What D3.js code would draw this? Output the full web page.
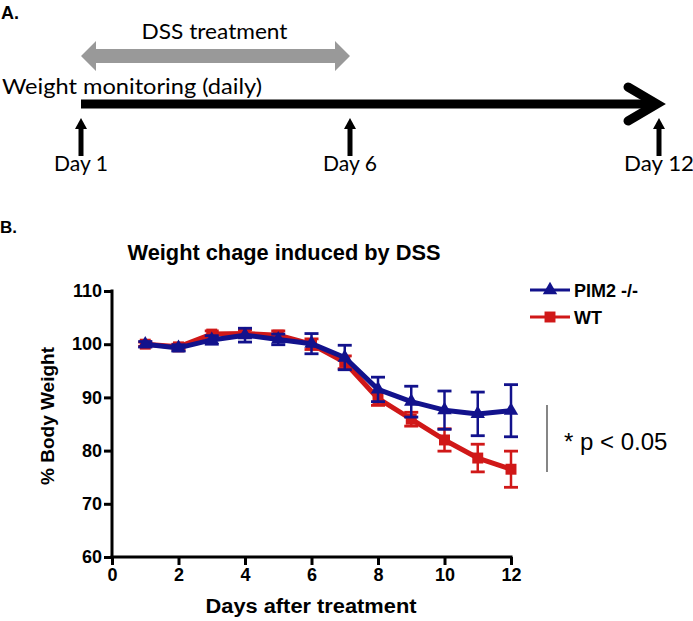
<!DOCTYPE html>
<html><head><meta charset="utf-8">
<script src="https://cdn.jsdelivr.net/npm/d3@7/dist/d3.min.js"></script>
<style>body{margin:0;background:#fff}svg{display:block}</style>
</head><body>
<script>
const days = [1,2,3,4,5,6,7,8,9,10,11,12];
const pim2 = [100, 99.3, 100.8, 101.7, 100.9, 100.1, 97.5, 91.5, 89.2, 87.6, 86.9, 87.5];
const pim2Err = [0.5, 0.6, 0.8, 1.3, 1.0, 1.9, 2.3, 2.3, 2.9, 3.6, 4.1, 4.9];
const wt = [100, 99.5, 101.9, 102.0, 101.7, 100.0, 96.6, 89.8, 85.9, 82.0, 78.6, 76.5];
const wtErr = [0.4, 0.5, 0.6, 0.7, 0.8, 1.0, 1.2, 1.3, 1.3, 2.1, 2.6, 3.4];
const xTicks = [0,2,4,6,8,10,12];
const yTicks = [60,70,80,90,100,110];
const timelineDays = [1,6,12];
const timelineLabels = ["Day 1","Day 6","Day 12"];

const W = 693, H = 621;
const svg = d3.select("body").append("svg").attr("width", W).attr("height", H);
const cal = "Lato, 'Open Sans', sans-serif";
const ar = "'Liberation Sans', Arial, sans-serif";

// ---------- Panel A ----------
svg.append("text").attr("x", 1).attr("y", 19).attr("font-family", ar).attr("font-weight", "bold")
  .attr("font-size", 18).text("A.");
const tx = d3.scaleLinear().domain([1,6,12]).range([81,350,659]);

// grey double arrow (DSS treatment: day 1 to day 6)
const gx0 = tx(1), gx1 = tx(6), gy = 56;
svg.append("path").attr("fill", "#999")
  .attr("d", `M${gx0},${gy} L${gx0+15},${gy-15} L${gx0+15},${gy-7} L${gx1-15},${gy-7} L${gx1-15},${gy-15} L${gx1},${gy}
              L${gx1-15},${gy+15} L${gx1-15},${gy+7} L${gx0+15},${gy+7} L${gx0+15},${gy+15} Z`);
svg.append("text").attr("x", (gx0+gx1)/2 - 1).attr("y", 39).attr("text-anchor", "middle")
  .attr("font-family", cal).attr("font-size", 22).attr("textLength", 146).attr("lengthAdjust", "spacingAndGlyphs")
  .text("DSS treatment");

svg.append("text").attr("x", 2).attr("y", 94).attr("font-family", cal).attr("font-size", 22)
  .attr("textLength", 260).attr("lengthAdjust", "spacingAndGlyphs").text("Weight monitoring (daily)");

// black timeline arrow
const by = 104;
svg.append("line").attr("x1", tx(1)).attr("x2", tx(12)-4).attr("y1", by).attr("y2", by)
  .attr("stroke", "#000").attr("stroke-width", 9);
svg.append("path").attr("fill", "none").attr("stroke", "#000").attr("stroke-width", 9)
  .attr("stroke-linecap", "round").attr("stroke-linejoin", "miter")
  .attr("d", `M${tx(12)-31},${by-17} L${tx(12)-2},${by} L${tx(12)-31},${by+17}`);

// up arrows and day labels
timelineDays.forEach((d,i) => {
  const x = tx(d);
  svg.append("line").attr("x1", x).attr("x2", x).attr("y1", 127).attr("y2", 156)
    .attr("stroke", "#000").attr("stroke-width", 5);
  svg.append("path").attr("fill", "#000").attr("d", `M${x-6},${129} L${x},${118} L${x+6},${129} Z`);
  svg.append("text").attr("x", x).attr("y", 171).attr("text-anchor", "middle")
    .attr("font-family", cal).attr("font-size", 22).attr("textLength", i === 2 ? 70 : 54)
    .attr("lengthAdjust", "spacingAndGlyphs").text(timelineLabels[i]);
});

// ---------- Panel B ----------
svg.append("text").attr("x", 0).attr("y", 233).attr("font-family", ar).attr("font-weight", "bold")
  .attr("font-size", 17).text("B.");
svg.append("text").attr("x", 284).attr("y", 260).attr("text-anchor", "middle").attr("font-family", ar)
  .attr("font-weight", "bold").attr("font-size", 22).attr("textLength", 313).attr("lengthAdjust", "spacingAndGlyphs")
  .text("Weight chage induced by DSS");

const x = d3.scaleLinear().domain([0,12]).range([112,511]);
const y = d3.scaleLinear().domain([60,110]).range([557,291]);

const gX = svg.append("g").attr("transform", `translate(0,${y(60)})`)
  .call(d3.axisBottom(x).tickValues(xTicks).tickSize(8).tickPadding(3).tickFormat(d3.format("d")));
const gY = svg.append("g").attr("transform", `translate(${x(0)},0)`)
  .call(d3.axisLeft(y).tickValues(yTicks).tickSize(8).tickPadding(2).tickFormat(d3.format("d")));
[gX, gY].forEach(g => {
  g.select(".domain").attr("stroke", "#000").attr("stroke-width", 3)
    .attr("d", g === gX ? `M${x(0)-1.5},0H${x(12)+1.5}` : `M0,${y(60)+1.5}V${y(110)-1.5}`);
  g.selectAll(".tick line").attr("stroke", "#000").attr("stroke-width", 3);
  g.selectAll(".tick text").attr("fill", "#000").attr("font-family", ar).attr("font-weight", "bold")
    .attr("font-size", 18);
});

svg.append("text").attr("transform", `translate(54,${416}) rotate(-90)`).attr("text-anchor", "middle")
  .attr("font-family", ar).attr("font-weight", "bold").attr("font-size", 19).text("% Body Weight");
svg.append("text").attr("x", 311).attr("y", 613).attr("text-anchor", "middle")
  .attr("font-family", ar).attr("font-weight", "bold").attr("font-size", 20).attr("textLength", 211)
  .attr("lengthAdjust", "spacingAndGlyphs").text("Days after treatment");

const series = [
  {name: "WT", vals: wt, err: wtErr, color: "#d01818", shape: d3.symbolSquare, size: 120},
  {name: "PIM2 -/-", vals: pim2, err: pim2Err, color: "#12128c", shape: d3.symbolTriangle, size: 90}
];
const line = d3.line().x((d,i) => x(days[i])).y(d => y(d));
series.forEach(s => {
  const g = svg.append("g");
  days.forEach((d,i) => {
    const cx = x(d), y1 = y(s.vals[i] + s.err[i]), y2 = y(s.vals[i] - s.err[i]);
    g.append("line").attr("x1", cx).attr("x2", cx).attr("y1", y1).attr("y2", y2)
      .attr("stroke", s.color).attr("stroke-width", 2.5);
    [y1, y2].forEach(yy => g.append("line").attr("x1", cx-7).attr("x2", cx+7).attr("y1", yy).attr("y2", yy)
      .attr("stroke", s.color).attr("stroke-width", 2.8));
  });
  g.append("path").datum(s.vals).attr("d", line).attr("fill", "none")
    .attr("stroke", s.color).attr("stroke-width", 5).attr("stroke-linejoin", "round");
  g.selectAll("path.pt").data(s.vals).enter().append("path").attr("class", "pt")
    .attr("transform", (d,i) => `translate(${x(days[i])},${y(d)})`)
    .attr("d", d3.symbol().type(s.shape).size(s.size)).attr("fill", s.color);
});

// legend
const legend = [series[1], series[0]];
legend.forEach((s,i) => {
  const ly = 290 + i*27;
  svg.append("line").attr("x1", 530).attr("x2", 570).attr("y1", ly).attr("y2", ly)
    .attr("stroke", s.color).attr("stroke-width", 3);
  svg.append("path").attr("transform", `translate(550,${ly})`)
    .attr("d", d3.symbol().type(s.shape).size(s.size)).attr("fill", s.color);
  svg.append("text").attr("x", 574).attr("y", ly + 6.5).attr("font-family", ar).attr("font-weight", "bold")
    .attr("font-size", 18).text(s.name);
});

// significance
svg.append("line").attr("x1", 547).attr("x2", 547).attr("y1", 405).attr("y2", 472)
  .attr("stroke", "#444").attr("stroke-width", 1.3);
svg.append("text").attr("x", 564).attr("y", 450).attr("font-family", ar).attr("font-size", 24)
  .text("* p < 0.05");
</script>
</body></html>
